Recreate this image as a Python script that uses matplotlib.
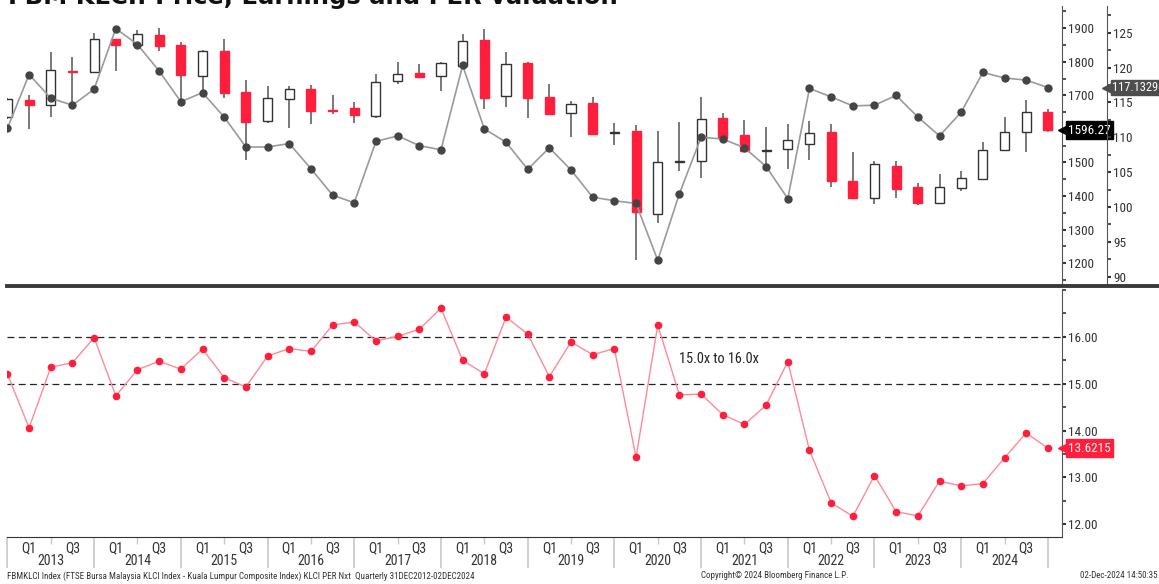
import matplotlib
matplotlib.use('Agg')
import matplotlib.pyplot as plt
import matplotlib.transforms as mtransforms
from matplotlib import font_manager as fm
from matplotlib.lines import Line2D

# quarterly data, Q4 2012 .. Q4 2024
years = [2013, 2014, 2015, 2016, 2017, 2018, 2019, 2020, 2021, 2022, 2023, 2024]

price_open = [1635, 1686, 1672, 1773, 1769, 1867, 1849, 1881, 1849, 1757,
              1831, 1711, 1622, 1688, 1718, 1655, 1662, 1637, 1744, 1765,
              1757, 1786, 1864, 1697, 1797, 1694, 1647, 1677, 1587, 1593,
              1346, 1501, 1503, 1632, 1581, 1534, 1540, 1554, 1591, 1444,
              1394, 1490, 1428, 1380, 1425, 1452, 1537, 1590, 1650]
price_high = [1692, 1701, 1828, 1814, 1885, 1868, 1895, 1899, 1859, 1834,
              1869, 1746, 1728, 1728, 1731, 1701, 1681, 1764, 1800, 1794,
              1800, 1883, 1898, 1828, 1800, 1734, 1684, 1696, 1617, 1613,
              1593, 1620, 1696, 1647, 1625, 1607, 1616, 1624, 1616, 1531,
              1505, 1503, 1440, 1467, 1474, 1561, 1635, 1686, 1660]
price_low = [1630, 1599, 1635, 1671, 1765, 1773, 1847, 1831, 1681, 1708,
             1691, 1506, 1619, 1604, 1615, 1644, 1617, 1632, 1734, 1755,
             1712, 1784, 1660, 1665, 1632, 1643, 1575, 1581, 1552, 1210,
             1319, 1476, 1455, 1573, 1532, 1488, 1480, 1506, 1428, 1392,
             1375, 1394, 1372, 1379, 1416, 1450, 1535, 1531, 1590]
price_close = [1689, 1672, 1774, 1769, 1867, 1849, 1883, 1848, 1761, 1831,
               1707, 1621, 1693, 1718, 1654, 1652, 1642, 1740, 1764, 1756,
               1797, 1863, 1692, 1793, 1691, 1645, 1673, 1585, 1590, 1351,
               1501, 1505, 1628, 1574, 1533, 1538, 1568, 1588, 1445, 1395,
               1496, 1422, 1378, 1426, 1455, 1537, 1590, 1650, 1596.27]

earnings = [111.3, 119.0, 115.6, 114.6, 116.9, 125.6, 123.3, 119.5, 115.1, 116.4,
            112.9, 108.6, 108.6, 109.1, 105.5, 101.7, 100.6, 109.4, 110.2, 108.8,
            108.2, 120.3, 111.2, 109.3, 105.4, 108.5, 105.3, 101.4, 100.9, 100.5,
            92.35, 101.9, 110.0, 109.75, 108.5, 105.8, 101.2, 117.0, 115.8, 114.5,
            114.6, 116.0, 112.9, 110.2, 113.6, 119.3, 118.5, 118.2, 117.1329]

per = [15.20, 14.06, 15.35, 15.45, 15.98, 14.74, 15.30, 15.48, 15.31, 15.74,
       15.13, 14.93, 15.59, 15.75, 15.69, 16.25, 16.32, 15.91, 16.01, 16.16,
       16.61, 15.50, 15.21, 16.42, 16.06, 15.15, 15.89, 15.62, 15.75, 13.43,
       16.25, 14.76, 14.78, 14.34, 14.13, 14.54, 15.47, 13.58, 12.46, 12.17,
       13.04, 12.27, 12.18, 12.92, 12.82, 12.87, 13.42, 13.95, 13.6215]

RED = '#ff1f3d'


def have_font(name):
    try:
        fm.findfont(fm.FontProperties(family=name), fallback_to_default=False)
        return True
    except ValueError:
        return False


# narrow face like Bloomberg's, else plain Liberation Sans a bit smaller
if have_font('Liberation Sans Narrow'):
    FONT, FS, FS_SMALL = 'Liberation Sans Narrow', 9.5, 6.4
elif have_font('Roboto Condensed'):
    FONT, FS, FS_SMALL = 'Roboto Condensed', 9.5, 6.5
else:
    FONT, FS, FS_SMALL = 'Liberation Sans', 8.3, 5.4
plt.rcParams['font.family'] = [FONT, 'DejaVu Sans']

x = list(range(len(price_close)))

fig = plt.figure(figsize=(11.59, 5.84), dpi=100)
W, H = 1159.0, 584.0


def box(l, t, r, b):
    return [l / W, 1 - b / H, (r - l) / W, (b - t) / H]


ax = fig.add_axes(box(7, 6, 1062, 284))
ax3 = fig.add_axes(box(7, 289, 1062, 537), sharex=ax)

# candles
for i in x:
    o, c = price_open[i], price_close[i]
    up = c >= o
    ax.vlines(i, price_low[i], price_high[i], color='#555555', lw=1.1, zorder=1)
    h = max(abs(c - o), 2.0)
    ax.bar(i, h, bottom=min(o, c), width=0.42,
           color='white' if up else RED,
           edgecolor='#333333' if up else RED, lw=1.0, zorder=2)

# earnings on second right axis
ax2 = ax.twinx()
ax2.plot(x, earnings, color='#9a9a9a', lw=1.2, marker='o', ms=5,
         mfc='#444444', mec='#444444', zorder=3)

ax.set_xlim(-0.02, 48.65)
ax.set_ylim(1138, 1966)
ax.set_yticks(range(1200, 2000, 100))
ax.set_yticks(range(1150, 1966, 50), minor=True)
for s in ['left', 'top', 'bottom']:
    ax.spines[s].set_visible(False)
ax.spines['right'].set_visible(True)
ax.spines['right'].set_color('#555555')
ax.tick_params(axis='y', which='major', direction='out', length=3, width=1.5,
               colors='#333333', labelsize=FS, pad=1.5,
               left=False, labelleft=False, right=True, labelright=True)
ax.tick_params(axis='y', which='minor', direction='out', length=3, width=1.2,
               color='#333333', left=False, right=True)
ax.tick_params(axis='x', bottom=False, labelbottom=False)

ax2.set_ylim(88.95, 128.83)
ax2.set_yticks(range(90, 130, 5))
ax2.set_yticks([87.5 + 2.5 * k for k in range(17)], minor=True)
ax2.set_ylim(88.95, 128.83)
for s in ['left', 'top', 'bottom']:
    ax2.spines[s].set_visible(False)
ax2.spines['right'].set_position(('axes', (1107 - 7) / 1055))
ax2.spines['right'].set_color('#555555')
ax2.tick_params(axis='y', which='major', direction='out', length=3, width=1.5,
                colors='#333333', labelsize=FS, pad=1.5)
ax2.tick_params(axis='y', which='minor', direction='out', length=3, width=1.2,
                color='#333333')

# PER panel
ax3.plot(x, per, color='#ff8a97', lw=1.0, marker='o', ms=4.5,
         mfc=RED, mec=RED, zorder=3)
ax3.axhline(15, color='#222222', ls=(0, (5.5, 3.5)), lw=0.9, zorder=1)
ax3.axhline(16, color='#222222', ls=(0, (5.5, 3.5)), lw=0.9, zorder=1)
ax3.text(31, 15.52, '15.0x to 16.0x', ha='left', va='center',
         fontsize=10.3, color='#222222')
ax3.set_ylim(11.73, 17.02)
ax3.set_yticks([12, 13, 14, 15, 16])
ax3.set_yticklabels(['%.2f' % v for v in [12, 13, 14, 15, 16]])
ax3.set_yticks([12.5, 13.5, 14.5, 15.5, 16.5, 17.0], minor=True)
for s in ['left', 'top']:
    ax3.spines[s].set_visible(False)
ax3.spines['right'].set_color('#555555')
ax3.spines['bottom'].set_color('#333333')
ax3.tick_params(axis='y', which='major', direction='out', length=3, width=1.5,
                colors='#333333', labelsize=FS, pad=1.5,
                left=False, labelleft=False, right=True, labelright=True)
ax3.tick_params(axis='y', which='minor', direction='out', length=3, width=1.2,
                color='#333333', left=False, right=True)
ax3.tick_params(axis='x', which='both', bottom=False, labelbottom=False)

# quarter / year axis labels
xt = ax3.get_xaxis_transform()
sep_idx = [4 * k for k in range(len(years) + 1)]
q2_idx = [4 * k + 2 for k in range(len(years))]
ax3.vlines(sep_idx, -0.125, 0, transform=xt, clip_on=False, color='#c8c8c8', lw=1.2)
ax3.vlines(q2_idx, -0.028, 0, transform=xt, clip_on=False, color='#c8c8c8', lw=1.0)
for k, yr in enumerate(years):
    ax3.text(4 * k + 1, -0.045, 'Q1', transform=xt, ha='center', va='center',
             fontsize=FS + 0.5, color='#333333')
    ax3.text(4 * k + 3, -0.045, 'Q3', transform=xt, ha='center', va='center',
             fontsize=FS + 0.5, color='#333333')
    ax3.text(4 * k + 2, -0.098, str(yr), transform=xt, ha='center', va='center',
             fontsize=FS + 0.5, color='#333333')


# last value tags
def tag(axis, value, text, color, xfrac, pad=0.18, size=FS):
    tr = mtransforms.blended_transform_factory(axis.transAxes, axis.transData)
    axis.plot([xfrac - 0.0035], [value], marker='<', ms=8, color=color,
              transform=tr, clip_on=False, zorder=10)
    axis.text(xfrac, value, text, transform=tr, ha='left', va='center',
              fontsize=size, color='white', zorder=11, clip_on=False,
              bbox=dict(boxstyle='square,pad=%.2f' % pad, fc=color, ec=color))


tag(ax, price_close[-1], '%.2f' % price_close[-1], 'black', (1068 - 7) / 1055)
tag(ax2, earnings[-1], '%.4f' % earnings[-1], '#4d4d4d', (1112 - 7) / 1055,
    pad=0.1, size=FS - 0.6)
tag(ax3, per[-1], '%.4f' % per[-1], RED, (1068 - 7) / 1055)

# separator between panels
fig.add_artist(Line2D([7 / W, 1.0], [1 - 286 / H, 1 - 286 / H],
                      color='#3a3a3a', lw=2.8))

# title (cut off at the top like the source)
fig.text(8 / W, 1 - 4 / H, 'FBM KLCI: Price, Earnings and PER valuation',
         ha='left', va='baseline', fontsize=17.5, fontweight='bold',
         family='DejaVu Sans', color='#111111')

# footer
fig.text(7 / W, 1 - 576 / H,
         'FBMKLCI Index (FTSE Bursa Malaysia KLCI Index - Kuala Lumpur Composite Index) '
         'KLCI PER Nxt  Quarterly 31DEC2012-02DEC2024',
         ha='left', va='center', fontsize=FS_SMALL, color='#333333')
fig.text(775 / W, 1 - 576 / H, 'Copyright\u00a9 2024 Bloomberg Finance L.P.',
         ha='center', va='center', fontsize=FS_SMALL, color='#333333')
fig.text(1158 / W, 1 - 576 / H, '02-Dec-2024 14:50:35',
         ha='right', va='center', fontsize=FS_SMALL, color='#333333')

fig.savefig('out.png', dpi=100)
